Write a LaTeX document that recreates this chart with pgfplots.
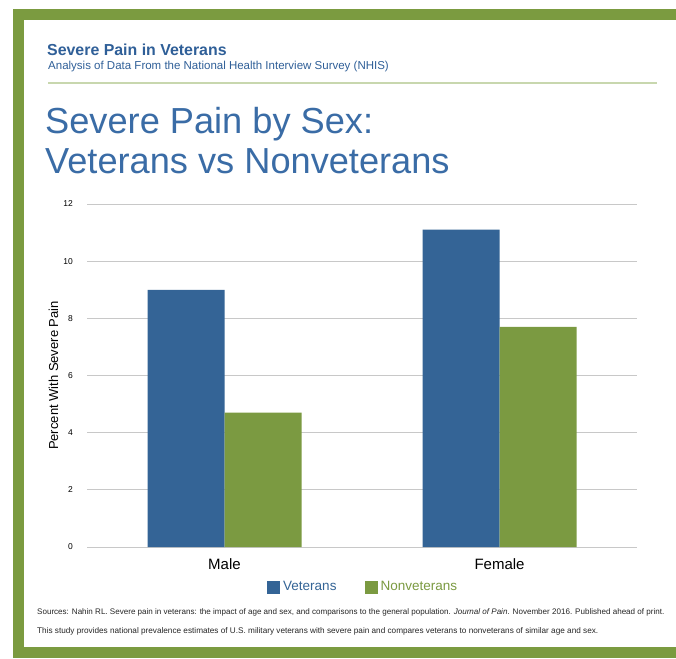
\documentclass[border=0pt]{standalone}
\usepackage{pgfplots}
\pgfplotsset{compat=1.18}
\usepackage{fontspec}
\setmainfont{Liberation Sans}
\definecolor{framegreen}{HTML}{7B9B40}
\definecolor{vetblue}{HTML}{346496}
\definecolor{nongreen}{HTML}{7B9A41}
\definecolor{headblue}{HTML}{2F5F98}
\definecolor{titleblue}{HTML}{3A6CA6}
\definecolor{rulegreen}{HTML}{C8D7AE}
\definecolor{gridgray}{HTML}{C8C8C8}
\begin{document}
\begin{tikzpicture}
\path[use as bounding box] (0pt,0pt) rectangle (676pt,-658pt);
\fill[white] (0pt,0pt) rectangle (676pt,-658pt);
\fill[framegreen] (13pt,-9pt) rectangle (676pt,-658pt);
\fill[white] (24pt,-20pt) rectangle (676pt,-647pt);
\draw[rulegreen, line width=2pt] (48pt,-83pt) -- (657pt,-83pt);
\node[anchor=base west, inner sep=0pt, text=headblue, font=\fontsize{15.9}{18}\selectfont\bfseries] at (47pt,-56pt) {Severe Pain in Veterans};
\node[anchor=base west, inner sep=0pt, text=headblue, font=\fontsize{11.5}{13}\selectfont] at (48pt,-70pt) {Analysis of Data From the National Health Interview Survey (NHIS)};
\node[anchor=base west, inner sep=0pt, text=titleblue, font=\fontsize{36.2}{40}\selectfont] at (45pt,-133pt) {Severe Pain by Sex:};
\node[anchor=base west, inner sep=0pt, text=titleblue, font=\fontsize{36.2}{40}\selectfont] at (45pt,-173pt) {Veterans vs Nonveterans};
\node[anchor=base west, inner sep=0pt, text=black!85, font=\fontsize{8.05}{9}\selectfont] at (37pt,-614pt) {Sources: Nahin RL. Severe pain in veterans: the impact of age and sex, and comparisons to the general population. \textit{Journal of Pain}. November 2016. Published ahead of print.};
\node[anchor=base west, inner sep=0pt, text=black!85, font=\fontsize{8.2}{9}\selectfont] at (37pt,-633pt) {This study provides national prevalence estimates of U.S. military veterans with severe pain and compares veterans to nonveterans of similar age and sex.};
\begin{axis}[
  at={(87pt,-547pt)}, anchor=south west,
  scale only axis, width=550pt, height=343pt,
  xmin=-0.5, xmax=1.5, ymin=0, ymax=12,
  ybar=0pt, bar width=77pt,
  xtick={0,1}, xticklabels={Male,Female},
  ytick={0,2,4,6,8,10,12},
  ymajorgrids, grid style={draw=gridgray, line width=1pt},
  axis line style={draw=none},
  major tick length=0pt,
  /pgf/number format/assume math mode=true,
  yticklabel style={font=\fontsize{8.5}{10}\selectfont, anchor=east, inner sep=0pt, xshift=-14pt},
  xticklabel style={font=\fontsize{15}{18}\selectfont, anchor=north, inner sep=0pt, yshift=-11pt},
  ylabel={Percent With Severe Pain},
  every axis y label/.style={at={(axis description cs:-0.061,0.5)}, rotate=90, anchor=center, inner sep=0pt, font=\fontsize{13}{15}\selectfont},
  legend columns=2,
  legend style={at={(axis description cs:0.3273,-0.1166)}, anchor=west, draw=none, fill=none, inner sep=0pt,
    font=\fontsize{13.5}{16}\selectfont,
    nodes={inner sep=0pt},
    /tikz/every odd column/.append style={column sep=3pt},
    /tikz/every even column/.append style={column sep=28pt}},
]
\addplot[fill=vetblue, draw=none, legend image code/.code={\fill[vetblue] (0pt,-6.5pt) rectangle (13pt,6.5pt);}] coordinates {(0,9.0) (1,11.1)};
\addlegendentry{\textcolor{vetblue}{Veterans}}
\addplot[fill=nongreen, draw=none, legend image code/.code={\fill[nongreen] (0pt,-6.5pt) rectangle (13pt,6.5pt);}] coordinates {(0,4.7) (1,7.7)};
\addlegendentry{\textcolor{nongreen}{Nonveterans}}
\end{axis}
\end{tikzpicture}
\end{document}
